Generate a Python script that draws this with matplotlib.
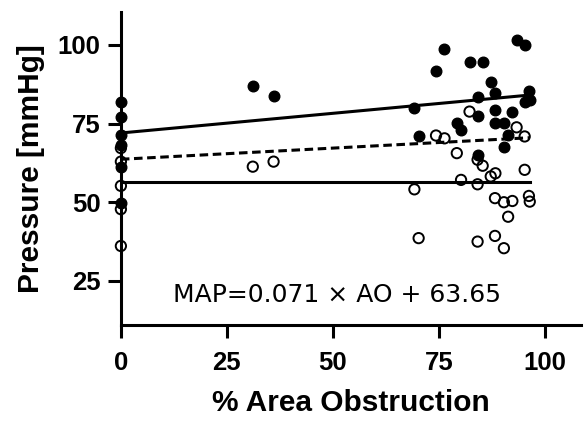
import matplotlib.pyplot as plt
import numpy as np

# filled circles
filled_x = [0, 0, 0, 0, 0, 0, 31.1, 36.0,
            76.2, 74.2, 82.2, 85.3, 93.3, 95.2, 87.2, 88.3, 84.3, 69.2,
            96.2, 96.4, 95.2, 88.2, 92.3, 84.3, 79.2, 80.2, 88.2, 90.3,
            70.2, 91.3, 90.3, 84.3]
filled_y = [82.0, 77.0, 71.4, 68.2, 61.3, 49.9, 87.0, 83.6,
            98.6, 91.8, 94.4, 94.7, 101.6, 100.1, 88.2, 84.8, 83.4, 79.9,
            85.2, 82.5, 82.0, 79.3, 78.8, 77.5, 75.1, 73.0, 75.3, 75.1,
            71.2, 71.4, 67.4, 65.0]

# open circles
open_x = [0, 0, 0, 0, 0, 31.1, 36.0,
          82.2, 74.3, 76.3, 93.3, 95.2, 79.2,
          84.1, 85.3, 95.2, 87.2, 88.3, 80.2, 84.1, 69.2, 88.2, 90.3,
          92.3, 96.2, 96.4, 91.3, 70.2, 84.1, 88.2, 90.3]
open_y = [67.2, 62.9, 55.2, 47.8, 36.1, 61.3, 62.9,
          78.8, 71.2, 70.3, 73.8, 70.9, 65.6,
          63.5, 61.6, 60.3, 58.2, 59.2, 57.1, 55.7, 54.1, 51.3, 50.0,
          50.4, 52.0, 50.2, 45.4, 38.6, 37.5, 39.3, 35.4]

# fitted lines: (intercept, slope)
fit_filled = (72.0, 0.125)
fit_map = (63.65, 0.071)
fit_open = (56.5, 0.0)
fit_xmax = 96.4

plt.rcParams['font.family'] = ['Liberation Sans', 'DejaVu Sans']

fig = plt.figure(figsize=(5.84, 4.21), dpi=100)
ax = fig.add_axes([0.207, 0.228, 0.788, 0.744])

xs = np.array([0, fit_xmax])
ax.plot(xs, fit_filled[0] + fit_filled[1] * xs, color='black', lw=2.2, zorder=2)
ax.plot(xs, fit_map[0] + fit_map[1] * xs, color='black', lw=2.2, ls=(0, (2.8, 1.5)), zorder=2)
ax.plot(xs, fit_open[0] + fit_open[1] * xs, color='black', lw=2.2, zorder=2)

ax.scatter(filled_x, filled_y, s=58, color='black', zorder=3, clip_on=False)
ax.scatter(open_x, open_y, s=55, facecolors='none', edgecolors='black',
           linewidths=1.4, zorder=3, clip_on=False)

ax.text(51, 20.5, 'MAP=0.071 × AO + 63.65', family='DejaVu Sans', fontsize=18,
        ha='center', va='center')

ax.set_xlim(0, 108.5)
ax.set_ylim(11, 110.5)
ax.set_xticks([0, 25, 50, 75, 100])
ax.set_yticks([25, 50, 75, 100])
ax.spines['top'].set_visible(False)
ax.spines['right'].set_visible(False)
for s in ['left', 'bottom']:
    ax.spines[s].set_linewidth(2.2)
ax.tick_params(width=2.2, length=9.5, labelsize=18.5, pad=5)
ax.tick_params(axis='x', pad=9)
for lab in ax.get_xticklabels() + ax.get_yticklabels():
    lab.set_fontweight('bold')

ax.set_xlabel('% Area Obstruction', fontsize=21.5, fontweight='bold', labelpad=10)
ax.set_ylabel('Pressure [mmHg]', fontsize=21.5, fontweight='bold', labelpad=9)

fig.savefig('out.png', dpi=100)
